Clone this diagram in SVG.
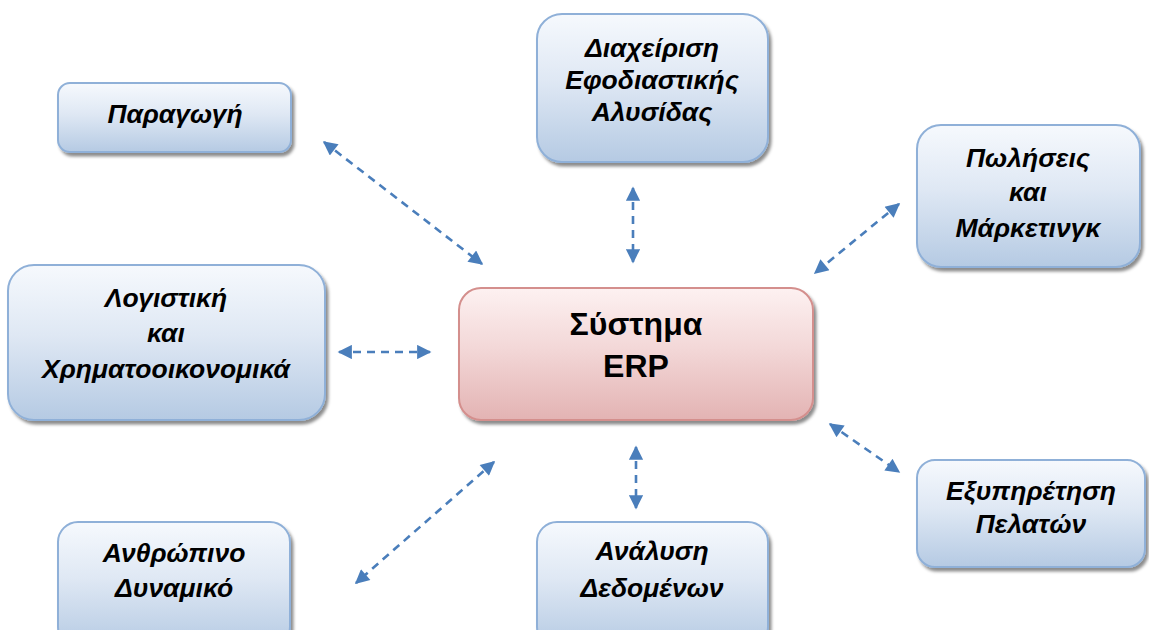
<svg xmlns="http://www.w3.org/2000/svg" width="1149" height="630" viewBox="0 0 1149 630">
  <defs>
    <linearGradient id="gBlue" x1="0" y1="0" x2="0" y2="1">
      <stop offset="0" stop-color="#f6f9fd"/>
      <stop offset="0.45" stop-color="#dfe8f4"/>
      <stop offset="1" stop-color="#b5cae3"/>
    </linearGradient>
    <linearGradient id="gRed" x1="0" y1="0" x2="0" y2="1">
      <stop offset="0" stop-color="#fdf1f1"/>
      <stop offset="0.45" stop-color="#f3d8d8"/>
      <stop offset="1" stop-color="#e3b3b3"/>
    </linearGradient>
    <filter id="sh" x="-10%" y="-10%" width="130%" height="130%">
      <feDropShadow dx="2.5" dy="3.5" stdDeviation="1.5" flood-color="#000" flood-opacity="0.45"/>
    </filter>
    <marker id="ah" viewBox="0 0 10 10" refX="9" refY="5" markerWidth="6" markerHeight="5.5" orient="auto-start-reverse" markerUnits="strokeWidth">
      <path d="M0,0 L10,5 L0,10 z" fill="#4a7ebb"/>
    </marker>
  </defs>
  <style>
    .box { fill: url(#gBlue); stroke: #8fb0d8; stroke-width: 2; filter: url(#sh); }
    .core { fill: url(#gRed); stroke: #d48f8d; stroke-width: 2; filter: url(#sh); }
    .lbl { font-family: "Liberation Sans", Arial, sans-serif; font-weight: bold; font-style: italic; font-size: 26.5px; fill: #000; text-anchor: middle; }
    .core-lbl { font-family: "Liberation Sans", Arial, sans-serif; font-weight: bold; font-size: 32px; fill: #000; text-anchor: middle; }
    .conn { stroke: #4a7ebb; stroke-width: 2.6; stroke-dasharray: 8 6; fill: none; marker-start: url(#ah); marker-end: url(#ah); }
  </style>
  <rect width="1149" height="630" fill="#ffffff"/>

  <g id="connectors">
    <line class="conn" x1="324" y1="142" x2="482" y2="264"/>
    <line class="conn" x1="633" y1="188" x2="633" y2="262"/>
    <line class="conn" x1="899" y1="204" x2="815" y2="273"/>
    <line class="conn" x1="339" y1="352" x2="430" y2="352"/>
    <line class="conn" x1="830" y1="424" x2="899" y2="472"/>
    <line class="conn" x1="636" y1="447" x2="636" y2="508"/>
    <line class="conn" x1="494" y1="462" x2="356" y2="583"/>
  </g>

  <g id="node-paragogi">
    <rect class="box" x="58" y="83" width="233" height="69" rx="12"/>
    <text class="lbl" x="175" y="123">Παραγωγή</text>
  </g>

  <g id="node-supply-chain">
    <rect class="box" x="537" y="14" width="231" height="148" rx="25"/>
    <text class="lbl" x="652" y="57">Διαχείριση</text>
    <text class="lbl" x="652" y="89">Εφοδιαστικής</text>
    <text class="lbl" x="652" y="121">Αλυσίδας</text>
  </g>

  <g id="node-sales">
    <rect class="box" x="917" y="125" width="223" height="142" rx="24"/>
    <text class="lbl" x="1028" y="167">Πωλήσεις</text>
    <text class="lbl" x="1028" y="201">και</text>
    <text class="lbl" x="1028" y="237">Μάρκετινγκ</text>
  </g>

  <g id="node-accounting">
    <rect class="box" x="8" y="265" width="317" height="155" rx="26"/>
    <text class="lbl" x="166" y="307">Λογιστική</text>
    <text class="lbl" x="166" y="342">και</text>
    <text class="lbl" x="166" y="378">Χρηματοοικονομικά</text>
  </g>

  <g id="node-erp">
    <rect class="core" x="459" y="288" width="354" height="132" rx="22"/>
    <text class="core-lbl" x="636" y="335">Σύστημα</text>
    <text class="core-lbl" x="636" y="377">ERP</text>
  </g>

  <g id="node-customer-service">
    <rect class="box" x="917" y="460" width="228" height="107" rx="18"/>
    <text class="lbl" x="1031" y="500">Εξυπηρέτηση</text>
    <text class="lbl" x="1031" y="533">Πελατών</text>
  </g>

  <g id="node-data-analysis">
    <rect class="box" x="537" y="522" width="231" height="125" rx="20"/>
    <text class="lbl" x="652" y="560">Ανάλυση</text>
    <text class="lbl" x="652" y="597">Δεδομένων</text>
  </g>

  <g id="node-hr">
    <rect class="box" x="58" y="522" width="232" height="125" rx="20"/>
    <text class="lbl" x="174" y="562">Ανθρώπινο</text>
    <text class="lbl" x="174" y="597">Δυναμικό</text>
  </g>
</svg>
